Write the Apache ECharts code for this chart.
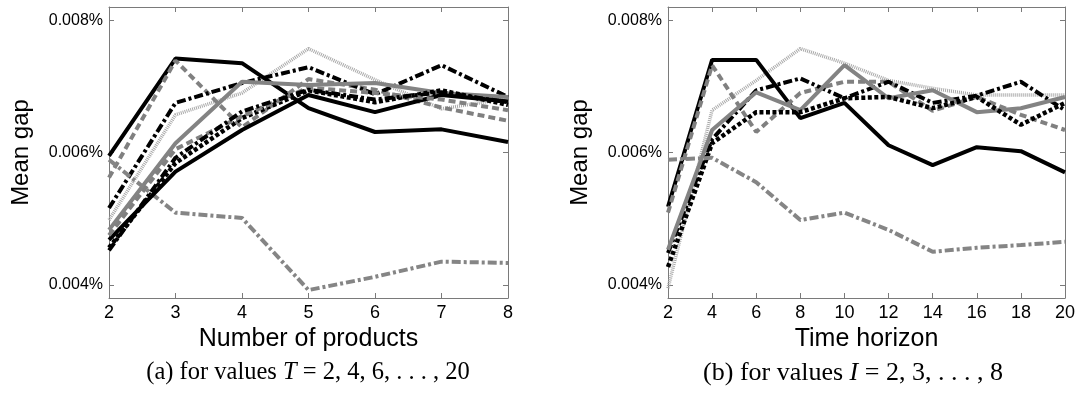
<!DOCTYPE html>
<html><head><meta charset="utf-8">
<script src="https://cdn.jsdelivr.net/npm/echarts@6/dist/echarts.min.js"></script>
<style>html,body{margin:0;padding:0;background:#fff}#c{width:1083px;height:394px}</style>
</head><body><div id="c"></div>
<script>
// ---- data (values in percent) ----
const productsX = [2, 3, 4, 5, 6, 7, 8];
const horizonX = [2, 4, 6, 8, 10, 12, 14, 16, 18, 20];
const yTicks = [0.004, 0.006, 0.008];

// panel (a): one series per T
const aT2  = [0.00595, 0.00742, 0.00735, 0.00667, 0.00631, 0.00635, 0.00616];
const aT4  = [0.00562, 0.00739, 0.00638, 0.00711, 0.00695, 0.00668, 0.00648];
const aT6  = [0.00516, 0.00675, 0.00705, 0.00729, 0.00688, 0.00732, 0.00684];
const aT8  = [0.00483, 0.00614, 0.00707, 0.00702, 0.00705, 0.00690, 0.00684];
const aT10 = [0.00456, 0.00584, 0.00652, 0.00694, 0.00676, 0.00694, 0.00672];
const aT12 = [0.00498, 0.00657, 0.00690, 0.00757, 0.00710, 0.00666, 0.00682];
const aT14 = [0.00589, 0.00509, 0.00501, 0.00392, 0.00412, 0.00435, 0.00433];
const aT16 = [0.00468, 0.00571, 0.00634, 0.00687, 0.00661, 0.00687, 0.00677];
const aT18 = [0.00475, 0.00605, 0.00655, 0.00698, 0.00690, 0.00680, 0.00664];
const aT20 = [0.00452, 0.00592, 0.00662, 0.00695, 0.00680, 0.00691, 0.00676];

// panel (b): one series per I
const bI2 = [0.00518, 0.00740, 0.00740, 0.00652, 0.00675, 0.00611, 0.00581, 0.00608, 0.00602, 0.00570];
const bI3 = [0.00509, 0.00732, 0.00631, 0.00690, 0.00707, 0.00707, 0.00663, 0.00684, 0.00657, 0.00634];
const bI4 = [0.00448, 0.00620, 0.00694, 0.00712, 0.00682, 0.00707, 0.00675, 0.00686, 0.00707, 0.00664];
const bI5 = [0.00453, 0.00634, 0.00691, 0.00664, 0.00732, 0.00682, 0.00694, 0.00661, 0.00667, 0.00684];
const bI6 = [0.00427, 0.00614, 0.00661, 0.00661, 0.00682, 0.00684, 0.00667, 0.00684, 0.00642, 0.00675];
const bI7 = [0.00395, 0.00664, 0.00709, 0.00757, 0.00735, 0.00709, 0.00697, 0.00687, 0.00687, 0.00687];
const bI8 = [0.00589, 0.00592, 0.00555, 0.00498, 0.00509, 0.00483, 0.00450, 0.00456, 0.00460, 0.00465];

const seriesA = [['T=2', aT2], ['T=4', aT4], ['T=6', aT6], ['T=8', aT8], ['T=10', aT10],
                 ['T=12', aT12], ['T=14', aT14], ['T=16', aT16], ['T=18', aT18], ['T=20', aT20]];
const seriesB = [['I=2', bI2], ['I=3', bI3], ['I=4', bI4], ['I=5', bI5], ['I=6', bI6], ['I=7', bI7], ['I=8', bI8]];

// ---- styles ----
const STY = [
  {color: '#000000', width: 4, type: 'solid'},          // black solid
  {color: '#808080', width: 4, type: [7, 4]},           // gray dashed
  {color: '#000000', width: 4, type: [9, 3, 3, 3]},     // black dash-dot
  {color: '#838383', width: 4, type: 'solid'},          // gray solid
  {color: '#000000', width: 4.5, type: [4, 2.5]},       // black dotted
  {color: '#a9a9a9', width: 3.5, type: [1, 1]},         // light gray dotted
  {color: '#858585', width: 4, type: [9, 3, 3, 3]}      // gray dash-dot
];
const FRAME = '#7a7a7a';
const SANS = 'Liberation Sans, Arial, sans-serif';

function mkX(grid, min, max, interval, name, top) {
  return {
    type: 'value', gridIndex: grid, min: min, max: max, interval: interval,
    position: top ? 'top' : 'bottom',
    axisLine: {show: true, onZero: false, lineStyle: {color: FRAME, width: 1}},
    axisTick: {show: true, inside: true, length: 5, lineStyle: {color: FRAME}},
    axisLabel: {show: !top, color: '#000', fontSize: 18, fontFamily: SANS, margin: 6},
    splitLine: {show: false},
    name: top ? '' : name, nameLocation: 'middle', nameGap: 25,
    nameTextStyle: {color: '#000', fontSize: 25, fontFamily: SANS}
  };
}
function mkY(grid, right) {
  return {
    type: 'value', gridIndex: grid, min: 0.0038, max: 0.0082,
    position: right ? 'right' : 'left',
    axisLine: {show: true, onZero: false, lineStyle: {color: FRAME, width: 1}},
    axisTick: {show: true, inside: true, length: 5, customValues: yTicks, lineStyle: {color: FRAME}},
    axisLabel: {show: !right, customValues: yTicks, color: '#000', fontSize: 16, fontFamily: SANS, margin: 6,
                formatter: v => v.toFixed(3) + '%'},
    splitLine: {show: false},
    name: right ? '' : 'Mean gap', nameLocation: 'middle', nameGap: 76,
    nameTextStyle: {color: '#000', fontSize: 24, fontFamily: SANS}
  };
}

const series = [];
seriesA.forEach((s, i) => {
  series.push({
    name: s[0], type: 'line', xAxisIndex: 0, yAxisIndex: 0, showSymbol: false, symbol: 'none',
    data: productsX.map((x, k) => [x, s[1][k]]),
    lineStyle: Object.assign({}, STY[i % 7]), z: (i % 7 === 5) ? 3 : 5, animation: false
  });
});
seriesB.forEach((s, i) => {
  series.push({
    name: s[0], type: 'line', xAxisIndex: 2, yAxisIndex: 2, showSymbol: false, symbol: 'none',
    data: horizonX.map((x, k) => [x, s[1][k]]),
    lineStyle: Object.assign({}, STY[i % 7]), z: (i === 5) ? 3 : 5, animation: false
  });
});

const chart = echarts.init(document.getElementById('c'), null, {renderer: 'canvas'});
chart.setOption({
  backgroundColor: '#fff',
  animation: false,
  grid: [
    {left: 109, top: 7, width: 399, height: 291, containLabel: false},
    {left: 668, top: 7, width: 397, height: 291, containLabel: false}
  ],
  xAxis: [
    mkX(0, 2, 8, 1, 'Number of products', false),
    mkX(0, 2, 8, 1, '', true),
    mkX(1, 2, 20, 2, 'Time horizon', false),
    mkX(1, 2, 20, 2, '', true)
  ],
  yAxis: [mkY(0, false), mkY(0, true), mkY(1, false), mkY(1, true)],
  series: series,
  graphic: [
    {type: 'text', silent: true, x: 308, y: 373,
     style: {align: 'center', verticalAlign: 'middle',
       text: '(a) for values {i|T} = 2, 4, 6, . . . , 20',
       font: '24.5px "Liberation Serif", "DejaVu Serif", serif', fill: '#000',
       rich: {i: {fontStyle: 'italic', fontSize: 24.5, fontFamily: 'Liberation Serif'}}}},
    {type: 'text', silent: true, x: 853, y: 373,
     style: {align: 'center', verticalAlign: 'middle',
       text: '(b) for values {i|I} = 2, 3, . . . , 8',
       font: '26px "Liberation Serif", "DejaVu Serif", serif', fill: '#000',
       rich: {i: {fontStyle: 'italic', fontSize: 26, fontFamily: 'Liberation Serif'}}}}
  ]
});
</script></body></html>
